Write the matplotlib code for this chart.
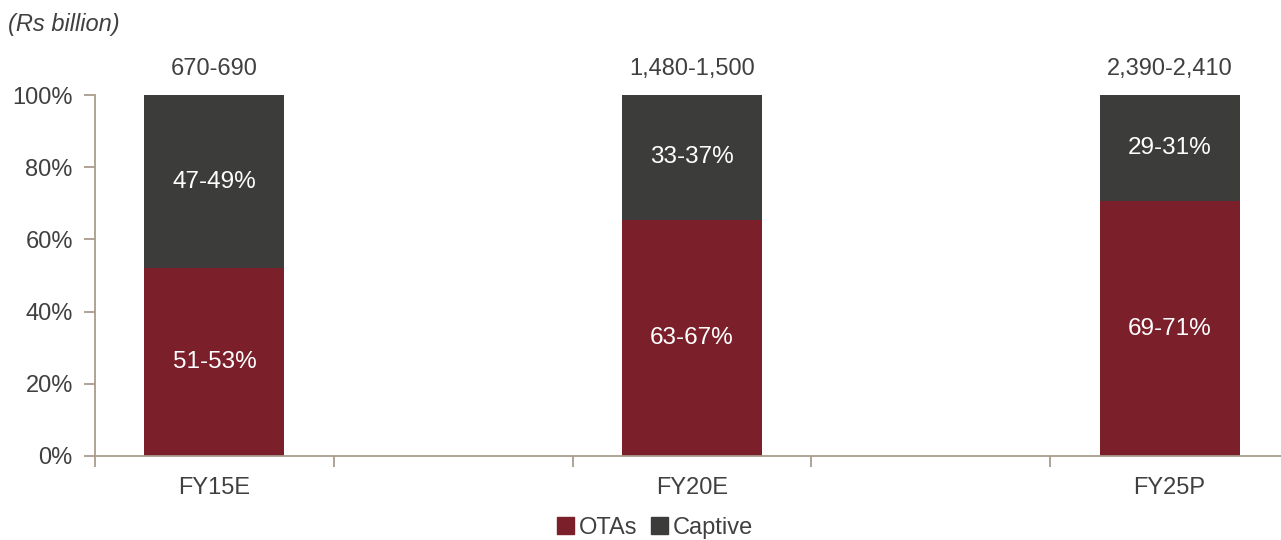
import matplotlib
matplotlib.use("Agg")
import matplotlib.pyplot as plt
from matplotlib.ticker import FixedLocator, PercentFormatter
from matplotlib.patches import Patch

plt.rcParams['font.family'] = ['Liberation Sans', 'DejaVu Sans']

categories = ["FY15E", "FY20E", "FY25P"]
otas = [52, 65.5, 70.5]
captive = [48, 34.5, 29.5]
otas_labels = ["51-53%", "63-67%", "69-71%"]
captive_labels = ["47-49%", "33-37%", "29-31%"]
totals = ["670-690", "1,480-1,500", "2,390-2,410"]

c_otas = "#7B1F2A"
c_cap = "#3C3C3B"
c_axis = "#A99C8C"
c_text = "#404040"

W, H = 1281, 540
fig = plt.figure(figsize=(W/100, H/100), dpi=100)
ax = fig.add_axes([95/W, 1-456/H, (1281-95)/W, (456-95)/H])

pos = [0, 2, 4]
bw = 0.586
ax.bar(pos, otas, bw, color=c_otas, label="OTAs", zorder=2)
ax.bar(pos, captive, bw, bottom=otas, color=c_cap, label="Captive", zorder=2)

for p, o, c, ol, cl, t in zip(pos, otas, captive, otas_labels, captive_labels, totals):
    ax.text(p, o/2, ol, ha="center", va="center", color="white", fontsize=17.5)
    ax.text(p, o + c/2, cl, ha="center", va="center", color="white", fontsize=17.5)
    ax.text(p, 107.2, t, ha="center", va="center", color=c_text, fontsize=17)

ax.set_xlim(-0.5, 4.5 - 8/239)
ax.set_ylim(0, 100)
ax.xaxis.set_major_locator(FixedLocator(pos))
ax.set_xticklabels(categories)
ax.xaxis.set_minor_locator(FixedLocator([-0.5, 0.5, 1.5, 2.5, 3.5, 4.5]))
ax.tick_params(axis="x", which="major", length=0, pad=15, labelsize=17, labelcolor=c_text)
ax.tick_params(axis="x", which="minor", length=8, color=c_axis, width=1.3)
ax.set_yticks([0, 20, 40, 60, 80, 100])
ax.yaxis.set_major_formatter(PercentFormatter(decimals=0))
ax.tick_params(axis="y", length=8, color=c_axis, width=1.3, labelsize=17, labelcolor=c_text, pad=8)

for s in ["top", "right"]:
    ax.spines[s].set_visible(False)
for s in ["left", "bottom"]:
    ax.spines[s].set_color(c_axis)
    ax.spines[s].set_linewidth(1.3)

fig.text(8/W, 1-24/H, "(Rs billion)", fontsize=17, style="italic", color=c_text, va="center", ha="left")

handles = [Patch(color=c_otas, label="OTAs"), Patch(color=c_cap, label="Captive")]
fig.legend(handles=handles, loc="center", bbox_to_anchor=(655/W, 1-528/H), ncol=2, frameon=False,
           fontsize=17, handlelength=0.7, handleheight=0.7, handletextpad=0.2, columnspacing=0.6,
           labelcolor=c_text)

fig.savefig("out.png", dpi=100)
